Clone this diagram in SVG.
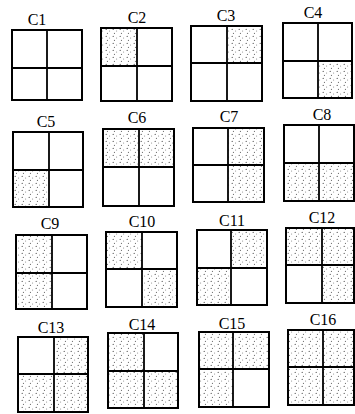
<svg xmlns="http://www.w3.org/2000/svg" width="355" height="414" viewBox="0 0 355 414">
<defs>
<pattern id="dots" width="7" height="7" patternUnits="userSpaceOnUse">
<circle cx="1.2" cy="1.4" r="0.6" fill="#555"/>
<circle cx="4.6" cy="3" r="0.5" fill="#777"/>
<circle cx="2.4" cy="5.4" r="0.55" fill="#666"/>
</pattern>
</defs>
<style>
.lbl{font-family:"Liberation Serif","Times New Roman",serif;font-size:16px;fill:#000;text-anchor:middle}
.box{fill:none;stroke:#000;stroke-width:2}
.div{stroke:#000;stroke-width:1.8}
.s{fill:url(#dots)}
</style>
<rect width="355" height="414" fill="#fff"/>

<g id="c1">
<text class="lbl" x="37" y="25">C1</text>
<rect class="box" x="12" y="30" width="70" height="70"/>
<line class="div" x1="47" y1="30" x2="47" y2="100"/><line class="div" x1="12" y1="68" x2="82" y2="68"/>
</g>

<g id="c2">
<text class="lbl" x="137" y="23">C2</text>
<rect class="s" x="101" y="28" width="36" height="38"/>
<rect class="box" x="101" y="28" width="71" height="73"/>
<line class="div" x1="137" y1="28" x2="137" y2="101"/><line class="div" x1="101" y1="66" x2="172" y2="66"/>
</g>

<g id="c3">
<text class="lbl" x="226" y="21">C3</text>
<rect class="s" x="227" y="26" width="35" height="37"/>
<rect class="box" x="191" y="26" width="71" height="75"/>
<line class="div" x1="227" y1="26" x2="227" y2="101"/><line class="div" x1="191" y1="63" x2="262" y2="63"/>
</g>

<g id="c4">
<text class="lbl" x="313" y="18">C4</text>
<rect class="s" x="318" y="61" width="34" height="37"/>
<rect class="box" x="283" y="23" width="69" height="75"/>
<line class="div" x1="318" y1="23" x2="318" y2="98"/><line class="div" x1="283" y1="61" x2="352" y2="61"/>
</g>

<g id="c5">
<text class="lbl" x="46" y="127">C5</text>
<rect class="s" x="13" y="170" width="36" height="37"/>
<rect class="box" x="13" y="132" width="70" height="75"/>
<line class="div" x1="49" y1="132" x2="49" y2="207"/><line class="div" x1="13" y1="170" x2="83" y2="170"/>
</g>

<g id="c6">
<text class="lbl" x="137" y="123">C6</text>
<rect class="s" x="103" y="129" width="71" height="38"/>
<rect class="box" x="103" y="129" width="71" height="77"/>
<line class="div" x1="139" y1="129" x2="139" y2="206"/><line class="div" x1="103" y1="167" x2="174" y2="167"/>
</g>

<g id="c7">
<text class="lbl" x="229" y="122">C7</text>
<rect class="s" x="228" y="128" width="36" height="74"/>
<rect class="box" x="193" y="128" width="71" height="74"/>
<line class="div" x1="228" y1="128" x2="228" y2="202"/><line class="div" x1="193" y1="165" x2="264" y2="165"/>
</g>

<g id="c8">
<text class="lbl" x="322" y="120">C8</text>
<rect class="s" x="284" y="163" width="70" height="38"/>
<rect class="box" x="284" y="125" width="70" height="76"/>
<line class="div" x1="319" y1="125" x2="319" y2="201"/><line class="div" x1="284" y1="163" x2="354" y2="163"/>
</g>

<g id="c9">
<text class="lbl" x="50" y="229">C9</text>
<rect class="s" x="16" y="235" width="36" height="74"/>
<rect class="box" x="16" y="235" width="71" height="74"/>
<line class="div" x1="52" y1="235" x2="52" y2="309"/><line class="div" x1="16" y1="273" x2="87" y2="273"/>
</g>

<g id="c10">
<text class="lbl" x="142" y="227">C10</text>
<rect class="s" x="106" y="232" width="36" height="37"/>
<rect class="s" x="142" y="269" width="35" height="38"/>
<rect class="box" x="106" y="232" width="71" height="75"/>
<line class="div" x1="142" y1="232" x2="142" y2="307"/><line class="div" x1="106" y1="269" x2="177" y2="269"/>
</g>

<g id="c11">
<text class="lbl" x="232" y="226">C11</text>
<rect class="s" x="231" y="230" width="36" height="38"/>
<rect class="s" x="197" y="268" width="34" height="37"/>
<rect class="box" x="197" y="230" width="70" height="75"/>
<line class="div" x1="231" y1="230" x2="231" y2="305"/><line class="div" x1="197" y1="268" x2="267" y2="268"/>
</g>

<g id="c12">
<text class="lbl" x="322" y="223">C12</text>
<rect class="s" x="286" y="228" width="68" height="37"/>
<rect class="s" x="322" y="265" width="32" height="38"/>
<rect class="box" x="286" y="228" width="68" height="75"/>
<line class="div" x1="322" y1="228" x2="322" y2="303"/><line class="div" x1="286" y1="265" x2="354" y2="265"/>
</g>

<g id="c13">
<text class="lbl" x="51" y="333">C13</text>
<rect class="s" x="54" y="337" width="34" height="37"/>
<rect class="s" x="18" y="374" width="70" height="38"/>
<rect class="box" x="18" y="337" width="70" height="75"/>
<line class="div" x1="54" y1="337" x2="54" y2="412"/><line class="div" x1="18" y1="374" x2="88" y2="374"/>
</g>

<g id="c14">
<text class="lbl" x="142" y="330">C14</text>
<rect class="s" x="108" y="333" width="36" height="38"/>
<rect class="s" x="108" y="371" width="70" height="37"/>
<rect class="box" x="108" y="333" width="70" height="75"/>
<line class="div" x1="144" y1="333" x2="144" y2="408"/><line class="div" x1="108" y1="371" x2="178" y2="371"/>
</g>

<g id="c15">
<text class="lbl" x="232" y="329">C15</text>
<rect class="s" x="199" y="332" width="70" height="37"/>
<rect class="s" x="199" y="369" width="34" height="38"/>
<rect class="box" x="199" y="332" width="70" height="75"/>
<line class="div" x1="233" y1="332" x2="233" y2="407"/><line class="div" x1="199" y1="369" x2="269" y2="369"/>
</g>

<g id="c16">
<text class="lbl" x="323" y="325">C16</text>
<rect class="s" x="288" y="330" width="66" height="75"/>
<rect class="box" x="288" y="330" width="66" height="75"/>
<line class="div" x1="323" y1="330" x2="323" y2="405"/><line class="div" x1="288" y1="367" x2="354" y2="367"/>
</g>
</svg>
